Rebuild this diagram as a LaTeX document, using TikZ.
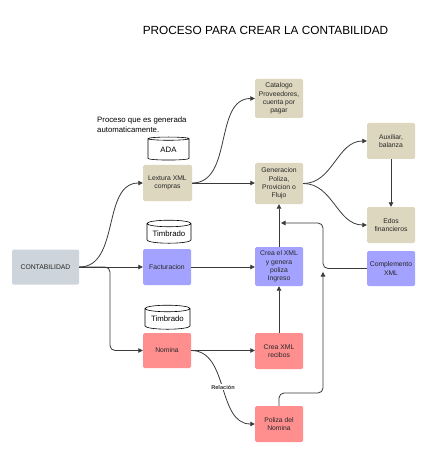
\documentclass[tikz,border=0pt]{standalone}
\usepackage{fontspec}
\setmainfont{Liberation Sans}
\usetikzlibrary{arrows.meta,shapes.geometric}
\definecolor{beige}{HTML}{DDD7BF}
\definecolor{purp}{HTML}{A3A3FF}
\definecolor{pinkb}{HTML}{FF8F8F}
\definecolor{greyb}{HTML}{CED4DB}
\definecolor{linec}{HTML}{3A3A3A}
\tikzset{
  box/.style={rectangle, rounded corners=1.5pt, inner sep=1pt, align=center,
    font=\fontsize{6.8}{8.2}\selectfont, text=black!85},
  bbox/.style={box, fill=beige},
  pbox/.style={box, fill=purp},
  rbox/.style={box, fill=pinkb},
  gbox/.style={box, fill=greyb},
  cyl/.style={cylinder, shape border rotate=90, draw=black, line width=0.6pt,
    aspect=0.2, inner sep=0pt, font=\fontsize{7.8}{9}\selectfont},
  conn/.style={draw=linec, line width=0.8pt, -{Triangle[length=4.5pt,width=4.5pt]}},
  plain/.style={draw=linec, line width=0.8pt},
}
\begin{document}
\begin{tikzpicture}[x=1pt,y=-1pt]
\useasboundingbox (0,0) rectangle (440,454);
\fill[white] (0,0) rectangle (440,454);

\node[font=\fontsize{11.8}{13}\selectfont] (title) at (265.5,30) {PROCESO PARA CREAR LA CONTABILIDAD};
\node[anchor=north west, align=left, inner sep=0pt, font=\fontsize{7.8}{9.4}\selectfont] (note) at (97,117) {Proceso que es generada\\automaticamente.};

\node[gbox, minimum width=67pt, minimum height=35pt] (cont) at (45.5,267) {CONTABILIDAD};
\node[bbox, minimum width=49pt, minimum height=36pt] (lext) at (167.5,183) {Lextura XML\\compras};
\node[pbox, minimum width=48pt, minimum height=36pt] (fact) at (167,267) {Facturacion};
\node[rbox, minimum width=48pt, minimum height=35pt] (nom) at (167,350.5) {Nomina};
\node[bbox, minimum width=48pt, minimum height=39pt] (cat) at (279,98.5) {Catalogo\\Proveedores,\\cuenta por\\pagar};
\node[bbox, minimum width=48pt, minimum height=41pt] (gen) at (279,183.5) {Generacion\\Poliza,\\Provicion o\\Flujo};
\node[bbox, minimum width=48pt, minimum height=36pt] (aux) at (391,141) {Auxiliar,\\balanza};
\node[bbox, minimum width=48pt, minimum height=36pt] (edos) at (391,225) {Edos\\financieros};
\node[pbox, minimum width=48pt, minimum height=39pt] (crea) at (279,266.5) {Crea el XML\\y genera\\poliza\\Ingreso};
\node[pbox, minimum width=48pt, minimum height=35pt] (comp) at (391,268.5) {Complemento\\XML};
\node[rbox, minimum width=48pt, minimum height=36pt] (rec) at (279,351) {Crea XML\\recibos};
\node[rbox, minimum width=48pt, minimum height=36pt] (pol) at (279,424) {Poliza del\\Nomina};

\node[cyl, minimum width=41pt, minimum height=23pt] (ada) at (168.5,149.5) {ADA};
\node[cyl, minimum width=44pt, minimum height=23pt] (timb1) at (169,233.5) {Timbrado};
\node[cyl, minimum width=45pt, minimum height=24pt] (timb2) at (167.5,319) {Timbrado};

\coordinate (ja) at (323,223);
\coordinate (jb) at (281,223);
\coordinate (jc) at (323,272);

\draw[conn] (cont.east) to[out=0,in=180] (lext.west);
\draw[conn] (cont.east) -- (fact.west);
\draw[conn, rounded corners=5pt] (cont.east) -- (110,267) -- (110,350.5) -- (nom.west);
\draw[conn] (lext.east) to[out=0,in=180] (cat.west);
\draw[conn] (lext.east) -- (gen.west |- lext.east);
\draw[conn] (fact.east) -- (crea.west |- fact.east);
\draw[conn] (nom.east) -- (rec.west |- nom.east);
\draw[conn] (nom.east) to[out=0,in=180]
  node[pos=0.5, fill=white, inner sep=1pt, font=\fontsize{5.6}{6}\selectfont\bfseries, text=black!80] (rel) {Relación} (pol.west);
\draw[conn] (rec.north) -- (crea.south);
\draw[conn] (crea.north) -- (gen.south);
\draw[conn] (gen.east) to[out=0,in=180] (aux.west);
\draw[conn] (gen.east) to[out=0,in=180] (edos.west);
\draw[conn] (aux.south) -- (edos.north);
\draw[conn, rounded corners=5pt] (comp.west) -- (323,268.5) -- (ja) -- (jb);
\draw[conn, rounded corners=5pt] (pol.north) -- (279,393) -- (323,393) -- (jc);
\end{tikzpicture}
\end{document}
